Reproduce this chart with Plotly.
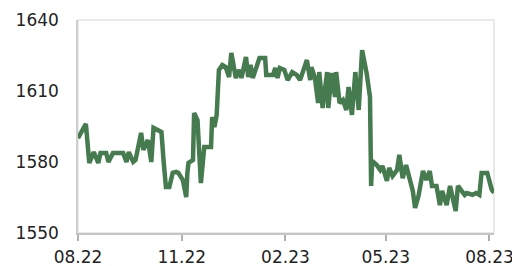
import pandas as pd
import plotly.graph_objects as go

start_date = "2022-08-01"
day_offsets = [0, 7, 10, 14, 18, 20, 25, 27, 31, 35, 40, 43, 45, 49, 51, 56, 58, 62, 65, 67,
               71, 74, 76, 78, 81, 84, 87, 89, 93, 96, 97, 98, 102, 103, 106, 109, 112, 118, 119, 121,
               123, 125, 128, 131, 134, 136, 140, 143, 145, 149, 151, 153, 155, 161, 166, 167, 173, 175, 177, 179,
               183, 186, 190, 194, 197, 199, 203, 206, 207, 210, 213, 214, 217, 221, 222, 225, 228, 229, 232, 235,
               238, 240, 243, 246, 249, 252, 256, 259, 260, 261, 265, 268, 270, 274, 276, 279, 283, 285, 288, 291,
               294, 297, 299, 302, 306, 309, 312, 314, 318, 321, 323, 327, 330, 332, 335, 337, 340, 343, 345, 350,
               353, 356, 358, 363, 367, 369]
values = [1590.1, 1596.1, 1579.6, 1584.2, 1579.6, 1583.8, 1583.8, 1580.0, 1583.8, 1583.8, 1583.8, 1580.0, 1584.2, 1580.0, 1580.8, 1592.3, 1585.1, 1589.3, 1580.0, 1594.4,
          1593.5, 1592.7, 1580.0, 1569.4, 1569.4, 1575.4, 1575.8, 1575.4, 1572.4, 1565.2, 1575.4, 1579.6, 1580.8, 1600.7, 1597.7, 1571.1, 1586.3, 1586.3, 1599.0, 1594.8,
          1599.9, 1618.9, 1621.0, 1620.1, 1615.9, 1626.1, 1615.5, 1618.9, 1615.5, 1624.4, 1615.9, 1621.0, 1615.5, 1623.9, 1623.9, 1616.8, 1616.8, 1619.7, 1615.5, 1619.7,
          1618.9, 1614.6, 1618.0, 1616.8, 1614.6, 1618.0, 1623.1, 1614.6, 1620.1, 1615.9, 1604.9, 1618.0, 1602.8, 1618.0, 1602.8, 1617.6, 1607.5, 1618.0, 1604.9, 1606.2,
          1602.0, 1611.7, 1599.9, 1618.0, 1602.0, 1627.3, 1617.6, 1607.5, 1569.9, 1580.4, 1578.7, 1576.6, 1578.3, 1572.0, 1577.5, 1574.1, 1576.6, 1583.0, 1573.2, 1578.7,
          1573.2, 1567.8, 1560.6, 1565.6, 1576.2, 1572.4, 1576.2, 1569.9, 1569.9, 1561.8, 1567.8, 1561.8, 1569.9, 1564.8, 1559.3, 1569.9, 1567.8, 1566.1, 1566.9, 1566.1,
          1566.9, 1566.1, 1575.4, 1575.4, 1568.3, 1567.0]
tick_dates = ["2022-08-01", "2022-11-01", "2023-02-01", "2023-05-01", "2023-08-01"]
tick_labels = ["08.22", "11.22", "02.23", "05.23", "08.23"]
y_ticks = [1550, 1580, 1610, 1640]

dates = pd.to_datetime(start_date) + pd.to_timedelta(day_offsets, unit="D")

fig = go.Figure()
fig.add_trace(go.Scatter(x=dates, y=values, mode="lines",
                         line=dict(color="#467a4f", width=4.5),
                         hoverinfo="skip"))

fig.add_shape(type="rect", xref="paper", yref="paper", x0=0, y0=0, x1=1, y1=1,
              line=dict(color="#e3e3e3", width=1.5), layer="below")

fig.update_layout(
    width=520, height=266,
    margin=dict(l=70, r=34, t=12, b=41),
    paper_bgcolor="white", plot_bgcolor="white",
    showlegend=False,
    font=dict(family="DejaVu Sans", size=17, color="#222222"),
    xaxis=dict(range=[dates[0], dates[-1]], tickvals=pd.to_datetime(tick_dates), ticktext=tick_labels,
               showgrid=False, zeroline=False, showline=True, linecolor="#c4c4c4", linewidth=1.5,
               ticks="outside", ticklen=6, tickcolor="#b0b0b0", tickwidth=1.5, automargin=False,
               ticklabelstandoff=2),
    yaxis=dict(range=[1550, 1640], tickvals=y_ticks, showgrid=False, zeroline=False,
               showline=True, linecolor="#cfcfcf", linewidth=1.5, ticks="", ticklabelstandoff=14,
               automargin=False),
)

fig.write_html("out.html")
